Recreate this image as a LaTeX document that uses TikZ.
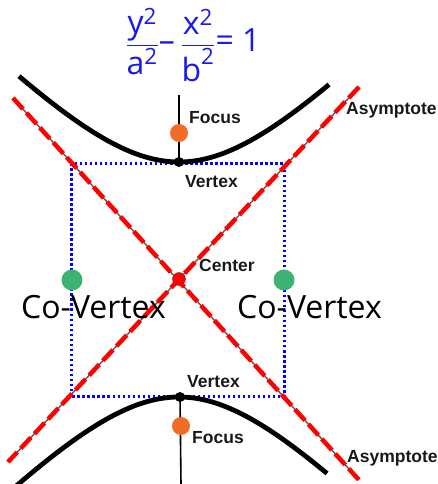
\documentclass[tikz,border=0pt]{standalone}
\usepackage{amsmath}
\usepackage{fontspec}
\setmainfont{Open Sans}
\newfontfamily\tagfont{Liberation Sans}
\usetikzlibrary{positioning}
\definecolor{focusorange}{RGB}{242,108,40}
\definecolor{covgreen}{RGB}{60,179,113}
\definecolor{eqblue}{RGB}{25,25,235}
\tikzset{
  branch/.style={line width=4.8pt, black},
  asymptote/.style={line width=4.5pt, red, dash pattern=on 15pt off 5pt},
  asymptote under/.style={line width=1.4pt, black!65},
  box/.style={line width=3pt, blue, dash pattern=on 2.5pt off 2.5pt},
  axisline/.style={line width=1.6pt, black},
  dot/.style={circle, fill, inner sep=0pt},
  tag/.style={inner sep=0pt, anchor=west, text=black!90,
    font=\tagfont\bfseries\fontsize{17.5}{20}\selectfont},
  covlabel/.style={inner sep=0pt, anchor=base west,
    font=\fontsize{32}{36}\selectfont},
}

\begin{document}
\begin{tikzpicture}[x=1pt,y=1pt]
  \useasboundingbox (-179,-205) rectangle (259,279);

  % Box through vertices and co-vertices
  \draw[box] (-107,-117) rectangle (105,115);

  % Hyperbola branches
  \draw[branch, domain=-160:150, samples=80] plot (\x, {117*sqrt(1+(\x/113)^2)});
  \draw[branch, domain=-170:148, samples=80] plot (\x, {-118*sqrt(1+(\x/113)^2)});

  % Transverse axis
  \coordinate (axtop) at (0,184);
  \coordinate (axbot) at (2,-205);
  \node[dot, fill=black, minimum size=10pt] (vtop) at (0,117) {};
  \node[dot, fill=black, minimum size=10pt] (vbot) at (1,-118) {};
  \draw[axisline] (axtop) -- (vtop.center);
  \draw[axisline] (vbot.center) -- (axbot);

  % Asymptotes
  \coordinate (asyA1) at (-166,181);
  \coordinate (asyA2) at (180,-201);
  \coordinate (asyB1) at (180,192);
  \coordinate (asyB2) at (-171,-183);
  \draw[asymptote under] (asyA1) -- (asyA2);
  \draw[asymptote under] (asyB1) -- (asyB2);
  \draw[asymptote] (asyA1) -- (asyA2);
  \draw[asymptote] (asyB1) -- (asyB2);

  % Points
  \node[dot, fill=focusorange, minimum size=18pt] (ftop) at (0,146) {};
  \node[dot, fill=focusorange, minimum size=18pt] (fbot) at (2,-147) {};
  \node[dot, fill=red, draw=black!70, thin, minimum size=13pt] (ctr) at (0,0) {};
  \node[dot, fill=covgreen, minimum size=21pt] (cvleft) at (-107,-1) {};
  \node[dot, fill=covgreen, minimum size=21pt] (cvright) at (105,-1) {};

  % Labels
  \node[tag] (ftoplbl) at (10,161) {Focus};
  \node[tag] (vtoplbl) at (6,97) {Vertex};
  \node[tag] (ctrlbl) at (20,14) {Center};
  \node[tag] (vbotlbl) at (8,-103) {Vertex};
  \node[tag] (fbotlbl) at (13,-159) {Focus};
  \node[tag] (asytoplbl) at (167,169) {Asymptote};
  \node[tag] (asybotlbl) at (168,-179) {Asymptote};
  \node[covlabel] (cvleftlbl) at (-158,-39) {Co-Vertex};
  \node[covlabel] (cvrightlbl) at (58,-39) {Co-Vertex};

  % Equation
  \node[text=eqblue, font=\fontsize{32}{38}\selectfont] (eqn) at (14,234)
    {$\dfrac{\text{y}^{\text{2}}}{\text{a}^{\text{2}}}\text{--\,}\dfrac{\text{x}^{\text{2}}}{\text{b}^{\text{2}}}\text{= 1}$};
\end{tikzpicture}
\end{document}
